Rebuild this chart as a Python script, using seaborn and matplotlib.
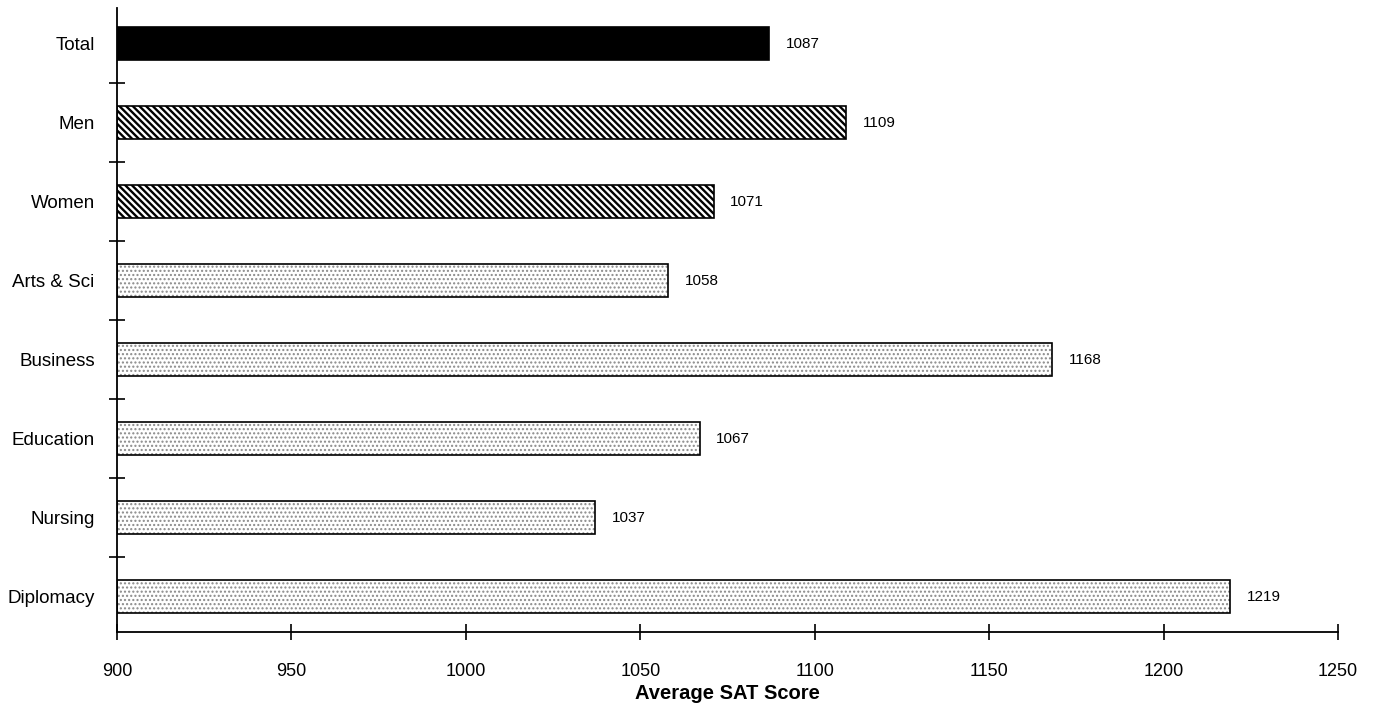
import matplotlib
matplotlib.use("Agg")
import matplotlib.pyplot as plt
import seaborn as sns
import pandas as pd

# data
categories = ["Total", "Men", "Women", "Arts & Sci", "Business", "Education", "Nursing", "Diplomacy"]
scores = [1087, 1109, 1071, 1058, 1168, 1067, 1037, 1219]
groups = ["total", "gender", "gender", "school", "school", "school", "school", "school"]

df = pd.DataFrame({"Category": categories, "Score": scores, "Group": groups})

sns.set_style("white")
plt.rcParams["font.family"] = ["Liberation Sans", "DejaVu Sans"]
plt.rcParams["text.color"] = "black"
plt.rcParams["xtick.color"] = "black"
plt.rcParams["ytick.color"] = "black"
plt.rcParams["axes.labelcolor"] = "black"
plt.rcParams["hatch.linewidth"] = 1.0

fig = plt.figure(figsize=(13.79, 7.07), dpi=100)
ax = fig.add_axes([0.0848, 0.106, 0.8855, 0.8825])

# base bars (fill + hatch)
sns.barplot(data=df, x="Score", y="Category", orient="h", color="white",
            width=0.42, ax=ax, saturation=1)

for patch, grp in zip(ax.patches, groups):
    if grp == "total":
        patch.set_facecolor("black")
        patch.set_edgecolor("black")
    elif grp == "gender":
        patch.set_facecolor("white")
        patch.set_edgecolor("black")
        patch.set_hatch("\\" * 5)
        if hasattr(patch, "set_hatch_linewidth"):
            patch.set_hatch_linewidth(1.7)
    else:
        patch.set_facecolor("white")
        patch.set_edgecolor("#8a8a8a")
        patch.set_hatch("....")
    patch.set_linewidth(0)

# black outlines on top of the hatched bars
outline = ax.barh(range(len(categories)), [s - 900 for s in scores], left=900,
                  height=0.42, facecolor="none", edgecolor="black", linewidth=1.2)

ax.bar_label(outline, labels=[str(s) for s in scores], padding=12, fontsize=11)

ax.set_xlim(900, 1250)
ax.set_ylim(7.45, -0.45)
ax.set_xticks(range(900, 1251, 50))
ax.set_xlabel("Average SAT Score", fontsize=14.5, fontweight="bold", labelpad=3)
ax.set_ylabel("")

ax.tick_params(axis="x", bottom=True, direction="inout", length=12, width=1.2,
               labelsize=13, pad=16)
ax.tick_params(axis="y", which="major", left=True, length=0, labelsize=13.5, pad=16)
ax.set_yticks([i + 0.5 for i in range(len(categories) - 1)], minor=True)
ax.tick_params(axis="y", which="minor", left=True, direction="inout", length=12, width=1.2)

sns.despine(ax=ax)
for side in ["left", "bottom"]:
    ax.spines[side].set_linewidth(1.3)
    ax.spines[side].set_color("black")

fig.savefig("out.png", dpi=100)
